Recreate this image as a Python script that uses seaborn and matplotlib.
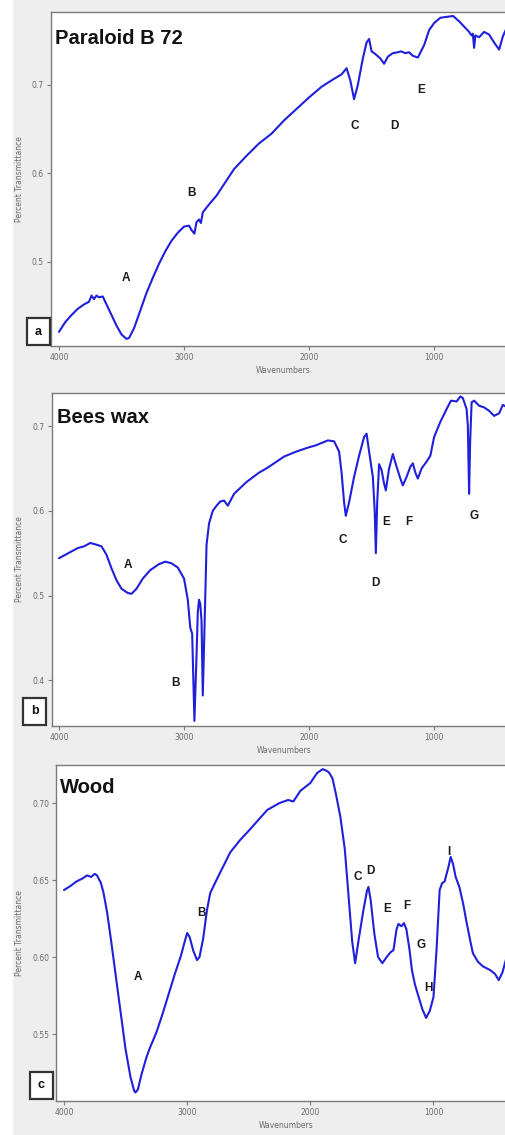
import numpy as np
import pandas as pd
import matplotlib
matplotlib.use("Agg")
import matplotlib.pyplot as plt
from matplotlib.patches import Rectangle
import seaborn as sns

# ---------------- data ----------------
# Panel a: Paraloid B 72
a_wn = [4000, 3950, 3900, 3850, 3800, 3760, 3740, 3720, 3700, 3680, 3650, 3620, 3580, 3540,
        3500, 3460, 3440, 3400, 3350, 3300, 3250, 3200, 3150, 3100, 3050, 3000, 2960, 2940,
        2917, 2900, 2880, 2865, 2850, 2800, 2740, 2600, 2500, 2400, 2300, 2200, 2100, 2000,
        1900, 1800, 1740, 1700, 1670, 1640, 1610, 1570, 1540, 1520, 1500, 1470, 1430, 1400,
        1370, 1330, 1290, 1265, 1230, 1200, 1170, 1130, 1080, 1040,
        1000, 950, 900, 848, 800, 760, 720, 700, 690, 680, 670, 640, 600, 560, 520, 480, 450,
        415, 380]
a_t = [0.421, 0.432, 0.440, 0.447, 0.452, 0.455, 0.462, 0.458, 0.462, 0.460, 0.461, 0.452,
       0.440, 0.428, 0.418, 0.413, 0.414, 0.425, 0.445, 0.465, 0.482, 0.498, 0.512, 0.524,
       0.533, 0.540, 0.541, 0.536, 0.532, 0.545, 0.548, 0.544, 0.556, 0.565, 0.575, 0.605,
       0.620, 0.634, 0.645, 0.660, 0.673, 0.686, 0.698, 0.707, 0.712, 0.719, 0.705, 0.684,
       0.700, 0.730, 0.748, 0.752, 0.738, 0.735, 0.730, 0.724, 0.732, 0.736, 0.737, 0.738,
       0.736, 0.737, 0.733, 0.731, 0.745, 0.762, 0.770, 0.776,
       0.777, 0.778, 0.772, 0.766, 0.760, 0.756, 0.758, 0.742, 0.756, 0.754, 0.760, 0.757,
       0.748, 0.740, 0.755, 0.766, 0.770]
a_peaks = ["A", "B", "C", "D", "E"]
a_peak_wn = [3463, 2941, 1634, 1314, 1105]
a_peak_t = [0.482, 0.578, 0.654, 0.654, 0.694]
a_yticks = [0.5, 0.6, 0.7]

# Panel b: Bees wax
b_wn = [4000, 3950, 3900, 3850, 3800, 3750, 3700, 3660, 3620, 3580, 3540, 3500, 3450, 3420,
        3380, 3330, 3270, 3200, 3150, 3100, 3050, 3000, 2970, 2950, 2935, 2917, 2900, 2890,
        2880, 2870, 2860, 2850, 2835, 2820, 2800, 2770, 2740, 2710, 2680, 2650, 2600, 2500,
        2400, 2330, 2300, 2200, 2100, 2000, 1950, 1900, 1850, 1800, 1760, 1740, 1720, 1706,
        1680, 1640, 1600, 1560, 1540, 1520, 1490, 1475, 1466, 1455, 1440, 1420, 1400, 1386,
        1360, 1330, 1300, 1270, 1250, 1220, 1190, 1170, 1150, 1130, 1100, 1060, 1030, 1000,
        950, 900, 865, 820, 790, 770, 740, 730, 720, 712, 700, 680, 640, 600, 560, 520, 480,
        450, 415, 380]
b_t = [0.544, 0.548, 0.552, 0.556, 0.558, 0.562, 0.560, 0.558, 0.548, 0.532, 0.518, 0.508,
       0.503, 0.502, 0.508, 0.520, 0.530, 0.537, 0.540, 0.538, 0.533, 0.520, 0.495, 0.462,
       0.455, 0.352, 0.430, 0.480, 0.495, 0.490, 0.470, 0.382, 0.470, 0.560, 0.585, 0.600,
       0.606, 0.611, 0.612, 0.606, 0.620, 0.634, 0.645, 0.651, 0.654, 0.664, 0.670, 0.675,
       0.677, 0.680, 0.683, 0.682, 0.670, 0.645, 0.610, 0.594, 0.610, 0.640, 0.665, 0.687,
       0.691, 0.670, 0.640, 0.600, 0.550, 0.610, 0.655, 0.648, 0.632, 0.624, 0.650, 0.667,
       0.652, 0.638, 0.630, 0.640, 0.652, 0.656, 0.645, 0.638, 0.650, 0.658, 0.665, 0.687,
       0.705, 0.720, 0.730, 0.729, 0.735, 0.733, 0.720, 0.700, 0.620, 0.680, 0.728, 0.730,
       0.724, 0.722, 0.718, 0.712, 0.715, 0.725, 0.722, 0.724]
b_peaks = ["A", "B", "C", "D", "E", "F", "G"]
b_peak_wn = [3447, 3070, 1730, 1466, 1386, 1201, 680]
b_peak_t = [0.536, 0.397, 0.565, 0.515, 0.587, 0.587, 0.594]
b_yticks = [0.4, 0.5, 0.6, 0.7]

# Panel c: Wood
c_wn = [4000, 3950, 3900, 3850, 3813, 3780, 3750, 3732, 3700, 3680, 3650, 3620, 3580, 3540,
        3500, 3460, 3430, 3420, 3400, 3370, 3330, 3300, 3250, 3200, 3150, 3100, 3050, 3020,
        3000, 2980, 2950, 2920, 2900, 2870, 2840, 2813, 2750, 2700, 2650, 2570, 2500, 2400,
        2350, 2250, 2180, 2138, 2080, 2000, 1945, 1900, 1870, 1850, 1820, 1790, 1756, 1720,
        1690, 1660, 1636, 1610, 1570, 1540, 1528, 1510, 1480, 1450, 1415, 1380, 1350, 1325,
        1300, 1285, 1260, 1240, 1220, 1195, 1175, 1150, 1120, 1090, 1060, 1030, 1000, 975,
        950, 930, 910, 880, 860, 840, 820, 790, 760, 730, 700, 680, 640, 600, 540, 500, 470,
        440, 406, 380]
c_t = [0.6435, 0.646, 0.649, 0.651, 0.653, 0.652, 0.654, 0.653, 0.648, 0.642, 0.629, 0.612,
       0.588, 0.564, 0.540, 0.522, 0.513, 0.512, 0.514, 0.524, 0.535, 0.5415, 0.551, 0.563,
       0.576, 0.589, 0.601, 0.610, 0.6156, 0.613, 0.604, 0.598, 0.600, 0.612, 0.630, 0.6415,
       0.652, 0.660, 0.668, 0.676, 0.682, 0.691, 0.6955, 0.700, 0.702, 0.701, 0.708, 0.713,
       0.7195, 0.722, 0.721, 0.720, 0.716, 0.705, 0.691, 0.670, 0.640, 0.610, 0.596, 0.610,
       0.630, 0.643, 0.6455, 0.637, 0.615, 0.600, 0.596, 0.600, 0.603, 0.6045, 0.618,
       0.6215, 0.620, 0.622, 0.618, 0.605, 0.5915, 0.582, 0.574, 0.566, 0.5605, 0.565,
       0.574, 0.605, 0.6435, 0.648, 0.649, 0.658, 0.665, 0.660, 0.652, 0.6455, 0.635, 0.622,
       0.610, 0.6025, 0.597, 0.594, 0.5915, 0.589, 0.585, 0.590, 0.600, 0.605]
c_peaks = ["A", "B", "C", "D", "E", "F", "G", "H", "I"]
c_peak_wn = [3398, 2886, 1618, 1512, 1374, 1220, 1098, 1041, 878]
c_peak_t = [0.587, 0.6286, 0.652, 0.656, 0.631, 0.633, 0.608, 0.580, 0.668]
c_yticks = [0.55, 0.60, 0.65, 0.70]

x_ticks = [4000, 3000, 2000, 1000]
titles = ["Paraloid B 72", "Bees wax", "Wood"]
panel_letters = ["a", "b", "c"]

# ---------------- layout ----------------
W, H = 506, 1135
sns.set_theme(style="white")
plt.rcParams["font.family"] = ["DejaVu Sans"]

fig = plt.figure(figsize=(W / 100, H / 100), dpi=100)
fig.patch.set_facecolor("#eeeeee")
fig.add_artist(Rectangle((0, 0), 13 / W, 1, transform=fig.transFigure,
                         facecolor="white", edgecolor="none", zorder=0))

panels = [
    dict(wn=a_wn, t=a_t, pk=a_peaks, pwn=a_peak_wn, pt=a_peak_t, yt=a_yticks,
         box=(51, 12, 346), xlim=(4064, 345), ylim=(0.405, 0.7825), fmt="{:.1f}",
         title_xy=(0.009, 0.922), lab=(38.5, 331.5)),
    dict(wn=b_wn, t=b_t, pk=b_peaks, pwn=b_peak_wn, pt=b_peak_t, yt=b_yticks,
         box=(52, 393, 726), xlim=(4056, 345), ylim=(0.346, 0.739), fmt="{:.1f}",
         title_xy=(0.011, 0.925), lab=(34.5, 711)),
    dict(wn=c_wn, t=c_t, pk=c_peaks, pwn=c_peak_wn, pt=c_peak_t, yt=c_yticks,
         box=(56, 765, 1101), xlim=(4065, 330), ylim=(0.5065, 0.7247), fmt="{:.2f}",
         title_xy=(0.009, 0.932), lab=(41.5, 1085)),
]

line_color = "#1f1fdc"
spine_color = "#7a7a7a"
tick_color = "#6a6a6a"

for i, p in enumerate(panels):
    left, top, bottom = p["box"]
    right = 516
    ax = fig.add_axes([left / W, 1 - bottom / H, (right - left) / W, (bottom - top) / H])
    ax.set_facecolor("white")
    df = pd.DataFrame({"Wavenumbers": p["wn"], "T": p["t"]})
    sns.lineplot(data=df, x="Wavenumbers", y="T", ax=ax, sort=False, estimator=None,
                 color=line_color, linewidth=1.5)
    ax.set_xlim(*p["xlim"])
    ax.set_ylim(*p["ylim"])
    ax.set_xticks(x_ticks)
    ax.set_xticklabels([str(v) for v in x_ticks])
    ax.set_yticks(p["yt"])
    ax.set_yticklabels([p["fmt"].format(v) for v in p["yt"]])
    ax.tick_params(axis="both", direction="out", length=3, width=0.8, color=spine_color,
                   labelsize=5.5, labelcolor=tick_color, pad=2, bottom=True, left=True)
    for s in ["left", "bottom", "top"]:
        ax.spines[s].set_color(spine_color)
        ax.spines[s].set_linewidth(1.0)
    ax.spines["right"].set_visible(False)
    ax.set_xlabel("Wavenumbers", fontsize=5.5, color=tick_color, labelpad=3)
    ax.set_ylabel("")
    fig.text(20 / W, 1 - ((top + bottom) / 2) / H, "Percent Transmittance", rotation=90,
             ha="center", va="center", fontsize=5.5, color=tick_color)
    ax.text(p["title_xy"][0], p["title_xy"][1], titles[i], transform=ax.transAxes,
            fontsize=14.5, fontweight="bold", family="Liberation Sans", color="#111111",
            ha="left", va="center")
    for lab, xw, yt in zip(p["pk"], p["pwn"], p["pt"]):
        ax.text(xw, yt, lab, fontsize=8.5, fontweight="bold", family="Liberation Sans",
                color="#1a1a1a", ha="center", va="center")
    cx, cy = p["lab"]
    bw, bh = 23, 27
    fig.add_artist(Rectangle(((cx - bw / 2) / W, 1 - (cy + bh / 2) / H), bw / W, bh / H,
                             transform=fig.transFigure, facecolor="white",
                             edgecolor="#333333", linewidth=1.6, zorder=5))
    fig.text(cx / W, 1 - cy / H, panel_letters[i], ha="center", va="center", fontsize=9,
             fontweight="bold", family="Liberation Sans", color="#111111", zorder=6)

fig.savefig("out.png", dpi=100, facecolor=fig.get_facecolor())
